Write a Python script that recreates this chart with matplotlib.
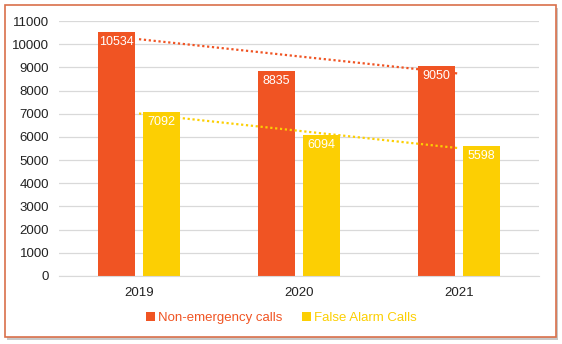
import matplotlib
matplotlib.use("Agg")
import matplotlib.pyplot as plt
import numpy as np
from matplotlib.patches import Rectangle

years = ["2019", "2020", "2021"]
non_emergency = [10534, 8835, 9050]
false_alarm = [7092, 6094, 5598]
series_names = ["Non-emergency calls", "False Alarm Calls"]
colors = ["#F05423", "#FCCF03"]

plt.rcParams['font.family'] = ['Liberation Sans', 'DejaVu Sans']

fig = plt.figure(figsize=(5.62, 3.44), dpi=100)
fig.patch.set_facecolor("white")

# frame with shadow
fig.patches.append(Rectangle((7/562, 1-340/344), 551/562, 332/344, transform=fig.transFigure,
                             facecolor="#c8c8c8", edgecolor="none", zorder=-2))
fig.patches.append(Rectangle((5/562, 1-337/344), 551/562, 332/344, transform=fig.transFigure,
                             facecolor="white", edgecolor="#D9704A", linewidth=1.2, zorder=-1))

ax = fig.add_axes([59/562, 1-276/344, 480/562, 255/344])
ax.set_facecolor("none")
x = np.arange(len(years))
w = 0.23
off = 0.14
b1 = ax.bar(x - off, non_emergency, w, color=colors[0], label=series_names[0], zorder=2)
b2 = ax.bar(x + off, false_alarm, w, color=colors[1], label=series_names[1], zorder=2)

for bars, vals in ((b1, non_emergency), (b2, false_alarm)):
    for rect, v in zip(bars, vals):
        ax.text(rect.get_x() + rect.get_width()/2, v - 180, str(v), ha="center", va="top",
                color="white", fontsize=9, zorder=4)

# linear trendlines
for vals, c in ((non_emergency, colors[0]), (false_alarm, colors[1])):
    p = np.polyfit(x, vals, 1)
    ax.plot(x, np.polyval(p, x), linestyle=(0, (1, 1.2)), color=c, linewidth=1.6, zorder=3)

ax.set_xlim(-0.5, 2.5)
ax.set_ylim(0, 11000)
ax.set_yticks(np.arange(0, 11001, 1000))
ax.set_xticks(x)
ax.set_xticklabels(years)
ax.grid(axis="y", color="#d9d9d9", linewidth=0.9, zorder=0)
ax.set_axisbelow(True)
for s in ["top", "right", "left"]:
    ax.spines[s].set_visible(False)
ax.spines["bottom"].set_color("#d9d9d9")
ax.tick_params(axis="both", length=0, labelsize=9.5, colors="#222222")
ax.tick_params(axis="y", pad=7)
ax.tick_params(axis="x", pad=8)

leg = fig.legend(handles=[b1, b2], labels=series_names, loc="center",
                 bbox_to_anchor=(0.5, 1-318/344), ncol=2, frameon=False, fontsize=9.5,
                 handlelength=0.7, handleheight=0.7, handletextpad=0.2, columnspacing=1.5)
for t, c in zip(leg.get_texts(), colors):
    t.set_color(c)

fig.savefig("out.png", dpi=100, facecolor="white")
